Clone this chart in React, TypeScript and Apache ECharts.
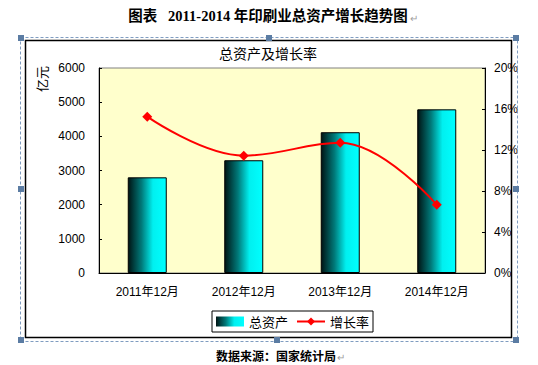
import React, { useEffect, useRef } from "react";
import * as echarts from "echarts";

const categories = ["2011年12月", "2012年12月", "2013年12月", "2014年12月"];
const totalAssets = [2800, 3300, 4120, 4790];
const growthRate = [15.25, 11.45, 12.7, 6.65];
const leftTicks = [0, 1000, 2000, 3000, 4000, 5000, 6000];
const rightTicks = [0, 4, 8, 12, 16, 20];

const FONT = "'Liberation Sans', 'Noto Sans CJK SC', sans-serif";
const CJK = "'Noto Sans CJK SC', sans-serif";

export default function App() {
  const ref = useRef<HTMLDivElement>(null);
  useEffect(() => {
    if (!ref.current) return;
    const chart = echarts.init(ref.current, null, { renderer: "svg" });
    const barGrad = new echarts.graphic.LinearGradient(0, 0, 1, 0, [
      { offset: 0, color: "#001414" },
      { offset: 0.35, color: "#007a7a" },
      { offset: 0.65, color: "#00f0f0" },
      { offset: 1, color: "#00ffff" },
    ]);
    const handle = (x: number, y: number) => ({
      type: "rect",
      shape: { x: x - 3, y: y - 3, width: 6, height: 6 },
      style: { fill: "#5b7ca3" },
      z: 20,
    });
    chart.setOption({
      animation: false,
      backgroundColor: "#ffffff",
      textStyle: { fontFamily: FONT },
      grid: { left: 99, right: 53, top: 68, bottom: 92, show: true, backgroundColor: "#ffffcc", borderColor: "#808080", borderWidth: 1 },
      legend: {
        left: 212,
        top: 311,
        width: 155,
        padding: [4, 4, 4, 4],
        itemGap: 8,
        borderColor: "#000",
        borderWidth: 1,
        textStyle: { fontFamily: CJK, fontSize: 13, color: "#000" },
        data: [
          { name: "总资产", icon: "rect", itemStyle: { borderWidth: 0 } },
          { name: "增长率" },
        ],
        itemWidth: 28,
        itemHeight: 10,
      },
      xAxis: {
        type: "category",
        data: categories,
        axisLine: { lineStyle: { color: "#000", width: 1 } },
        axisTick: { inside: true, length: 3, lineStyle: { color: "#000" } },
        axisLabel: { color: "#000", fontSize: 12, margin: 13, fontFamily: FONT },
      },
      yAxis: [
        {
          type: "value",
          min: leftTicks[0],
          max: leftTicks[leftTicks.length - 1],
          interval: 1000,
          axisLine: { show: true, lineStyle: { color: "#000" } },
          axisTick: { show: true, inside: true, length: 3, lineStyle: { color: "#000" } },
          axisLabel: { color: "#000", fontSize: 12, margin: 14, formatter: (v: number) => String(v) },
          splitLine: { show: false },
        },
        {
          type: "value",
          min: rightTicks[0],
          max: rightTicks[rightTicks.length - 1],
          interval: 4,
          position: "right",
          axisLine: { show: true, lineStyle: { color: "#000" } },
          axisTick: { show: true, inside: true, length: 3, lineStyle: { color: "#000" } },
          axisLabel: { color: "#000", fontSize: 12, margin: 9, formatter: "{value}%" },
          splitLine: { show: false },
        },
      ],
      series: [
        {
          name: "总资产",
          type: "bar",
          data: totalAssets,
          barWidth: 39,
          itemStyle: { color: barGrad, borderColor: "#000", borderWidth: 1 },
        },
        {
          name: "增长率",
          type: "line",
          yAxisIndex: 1,
          data: growthRate,
          smooth: 0.4,
          symbol: "diamond",
          symbolSize: 10,
          lineStyle: { color: "#ff0000", width: 2 },
          itemStyle: { color: "#ff0000" },
        },
      ],
      graphic: [
        {
          type: "text",
          x: 268,
          y: 16,
          style: { text: "图表   2011-2014 年印刷业总资产增长趋势图", fontFamily: "'Liberation Serif', 'Noto Sans CJK SC', serif", fontWeight: "bold", fontSize: 14.5, fill: "#000", align: "center", verticalAlign: "middle" },
        },
        {
          type: "text",
          x: 410,
          y: 17,
          style: { text: "↵", fontFamily: CJK, fontSize: 10, fill: "#a0a0a0", align: "left", verticalAlign: "middle" },
        },
        {
          type: "text",
          x: 41,
          y: 79,
          rotation: Math.PI / 2,
          style: { text: "亿元", fontFamily: CJK, fontSize: 13, fill: "#000", align: "center", verticalAlign: "middle" },
        },
        {
          type: "rect",
          shape: { x: 20.5, y: 37.5, width: 497, height: 304 },
          style: { fill: "none", stroke: "#7f9cc0", lineWidth: 1, lineDash: [3, 2] },
          z: 10,
        },
        {
          type: "rect",
          shape: { x: 25.5, y: 40.5, width: 486, height: 297 },
          style: { fill: "none", stroke: "#000", lineWidth: 1.5 },
          z: 10,
        },
        handle(21, 38), handle(269, 38), handle(516, 38),
        handle(21, 189), handle(516, 189),
        handle(21, 340), handle(277, 340), handle(516, 340),
        {
          type: "text",
          x: 268,
          y: 53,
          style: { text: "总资产及增长率", fontFamily: CJK, fontSize: 14, fill: "#000", align: "center", verticalAlign: "middle" },
        },
        {
          type: "text",
          x: 276,
          y: 355,
          style: { text: "数据来源：国家统计局", fontFamily: CJK, fontSize: 12, fontWeight: "bold", fill: "#000", align: "center", verticalAlign: "middle" },
        },
        {
          type: "text",
          x: 337,
          y: 356,
          style: { text: "↵", fontFamily: CJK, fontSize: 10, fill: "#a0a0a0", align: "left", verticalAlign: "middle" },
        },
      ],
    });
    return () => chart.dispose();
  }, []);
  return <div ref={ref} style={{ position: "fixed", left: 0, top: 0, width: 538, height: 365 }} />;
}
